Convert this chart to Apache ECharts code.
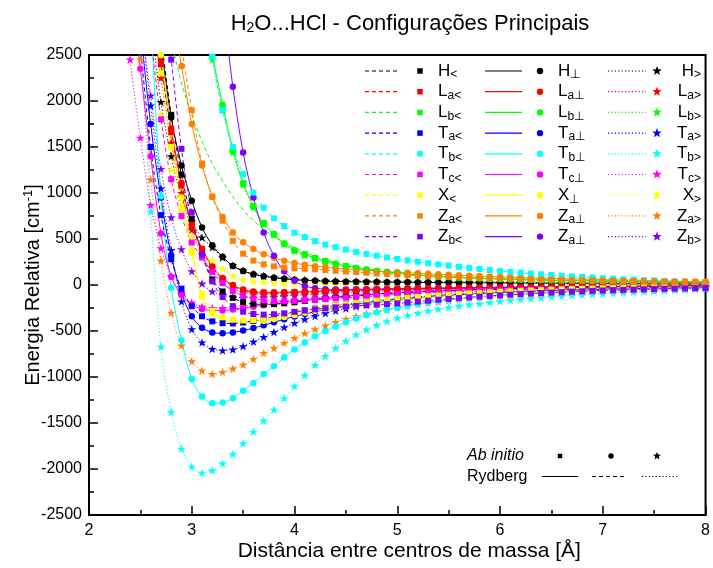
<!DOCTYPE html>
<html><head><meta charset="utf-8">
<script src="https://cdn.jsdelivr.net/npm/echarts@6/dist/echarts.min.js"></script>
<style>html,body{margin:0;padding:0;background:#fff}#chart{width:713px;height:568px}</style>
</head><body><div id="chart"></div>
<script>
const distances = [2.3,2.4,2.5,2.6,2.7,2.8,2.9,3.0,3.1,3.2,3.3,3.4,3.5,3.6,3.7,3.8,3.9,
 4.0,4.1,4.2,4.3,4.4,4.5,4.6,4.7,4.8,4.9,5.0,5.1,5.2,5.3,5.4,5.5,5.6,5.7,5.8,5.9,
 6.0,6.1,6.2,6.3,6.4,6.5,6.6,6.7,6.8,6.9,7.0,7.1,7.2,7.3,7.4,7.5,7.6,7.7,7.8,7.9,8.0];

const hLess = [null,null,null,null,2700,1850,1200,720,340,60,-70,-140,-185,-205,-211,-208,-200,
 -188,-174,-160,-148,-137,-126,-116,-107,-99,-92,
 -85,-79,-73,-68,-63,-59,-55,-51,-48,-45,
 -42,-39,-37,-34,-32,-30,-28,-26,-25,-23,
 -22,-20,-19,-18,-17,-16,-15,-14,-13,-12,-11];
const hPerp = [null,null,null,3300,2600,1820,1300,917,626,433,306,207,153,117,96,80,67,
 57,50,45,41,38,36,34,33,32,31,
 30,29,28,27,26,26,25,24,23,23,
 22,21,20,20,19,18,17,17,16,15,
 15,14,13,13,12,11,11,10,10,9,9];
const hGreater = [null,null,null,2900,1990,1400,960,690,516,410,300,212,158,120,98,82,70,
 60,54,49,46,43,41,39,38,37,36,
 35,34,33,32,31,31,30,29,29,28,
 27,27,26,25,25,24,23,23,22,21,
 21,20,19,19,18,17,17,16,15,15,14];
const laLess = [null,null,null,3200,2400,1660,1080,640,380,190,65,-11,-60,-80,-86,-86,-83,
 -79,-75,-71,-67,-63,-60,-57,-54,-51,-49,
 -47,-45,-43,-41,-39,-37,-35,-34,-32,-31,
 -29,-28,-27,-26,-25,-24,-23,-22,-21,-20,
 -19,-18,-17,-16,-15,-14,-13,-12,-11,-10,-9];
const laPerp = [null,null,null,3300,2450,1700,1110,660,395,200,75,0,-50,-72,-80,-80,-78,
 -75,-71,-67,-63,-60,-57,-54,-51,-49,-47,
 -45,-43,-41,-39,-37,-36,-34,-33,-31,-30,
 -29,-28,-26,-25,-24,-23,-22,-21,-20,-19,
 -18,-17,-16,-15,-14,-13,-12,-12,-11,-10,-9];
const laGreater = [null,null,null,3000,2250,1550,1000,600,330,150,30,-40,-78,-95,-100,-98,-94,
 -89,-84,-79,-74,-70,-66,-62,-59,-56,-53,
 -50,-48,-45,-43,-41,-39,-37,-35,-34,-32,
 -31,-29,-28,-27,-26,-24,-23,-22,-21,-20,
 -19,-18,-17,-16,-15,-14,-14,-13,-12,-11,-10];
const lbLess = [null,null,null,null,null,null,null,null,3250,2480,1940,1460,1100,860,675,550,448,
 376,330,291,258,229,205,184,166,150,137,
 126,116,107,99,92,86,81,76,72,68,
 64,61,58,55,53,51,49,47,45,43,
 41,39,37,35,34,32,30,29,27,26,24];
const lbLessFit = [null,null,null,null,3100,2650,2200,1850,1560,1320,1130,960,820,700,605,525,460,
 405,355,312,276,245,218,195,175,158,143,
 130,119,109,101,94,88,82,77,73,69,
 65,62,59,56,54,52,50,48,46,44,
 42,40,38,36,35,33,31,30,28,27,25];
const lbPerp = [null,null,null,null,null,null,null,null,3300,2520,1960,1474,1110,855,669,553,451,
 379,333,294,261,232,207,186,168,152,139,
 127,117,108,100,93,87,82,77,73,69,
 65,62,59,56,54,52,50,48,46,44,
 42,40,38,36,35,33,31,30,28,27,25];
const lbGreater = [null,null,null,null,null,null,null,null,3150,2450,1900,1440,1090,845,660,545,445,
 372,327,289,256,228,203,182,165,149,136,
 125,115,106,98,91,85,80,75,71,67,
 63,60,57,54,52,50,48,46,44,42,
 40,38,37,35,33,32,30,29,27,26,24];
const taLess = [null,null,2600,1500,760,280,-40,-230,-340,-395,-415,-418,-408,-390,-368,-342,-317,
 -295,-275,-256,-239,-223,-208,-194,-181,-169,-158,
 -148,-138,-129,-121,-114,-107,-101,-95,-89,-84,
 -79,-75,-71,-67,-63,-60,-57,-54,-51,-48,
 -46,-43,-41,-39,-37,-35,-33,-31,-29,-28,-26];
const taPerp = [null,null,2800,1750,950,320,-90,-340,-465,-515,-525,-515,-495,-468,-437,-405,-373,
 -343,-315,-290,-266,-245,-226,-208,-192,-178,-165,
 -153,-142,-132,-123,-115,-107,-100,-94,-88,-83,
 -78,-73,-69,-65,-61,-58,-55,-52,-49,-46,
 -44,-42,-40,-38,-36,-34,-32,-30,-28,-27,-25];
const taGreater = [null,null,2950,1950,1050,380,-180,-480,-625,-695,-712,-700,-665,-617,-565,-512,-460,
 -413,-372,-337,-306,-279,-255,-234,-215,-198,-183,
 -170,-158,-147,-137,-128,-120,-112,-105,-99,-93,
 -87,-82,-77,-73,-69,-65,-61,-58,-55,-52,
 -49,-46,-44,-42,-40,-38,-36,-34,-32,-30,-28];
const tbLess = [null,null,null,null,null,null,null,null,3300,2480,1900,1500,1205,1004,841,724,641,
 568,521,477,440,410,385,360,338,318,300,
 283,267,252,237,223,210,197,185,174,163,
 153,143,134,125,117,109,101,94,87,81,
 75,69,63,58,53,48,43,38,34,29,25];
const tbPerp = [null,null,null,3000,964,-29,-600,-1023,-1212,-1285,-1277,-1230,-1150,-1066,-968,-884,-786,
 -700,-625,-557,-500,-450,-405,-365,-330,-300,-272,
 -248,-226,-207,-190,-175,-161,-149,-138,-128,-119,
 -111,-104,-97,-91,-85,-80,-75,-70,-66,-62,
 -58,-55,-51,-48,-45,-42,-39,-37,-34,-32,-30];
const tbGreater = [null,null,2700,800,-670,-1380,-1780,-1976,-2040,-2015,-1940,-1837,-1721,-1594,-1474,-1357,-1230,
 -1100,-980,-870,-772,-685,-608,-542,-485,-436,-395,
 -360,-330,-304,-281,-261,-243,-227,-213,-200,-188,
 -177,-166,-156,-146,-137,-129,-121,-114,-107,-100,
 -94,-88,-82,-77,-72,-67,-62,-57,-52,-47,-42];
const tcLess = [null,null,null,2700,1800,1150,750,462,298,142,20,-65,-115,-148,-166,-175,-176,
 -173,-168,-161,-154,-146,-139,-131,-124,-117,-110,
 -104,-98,-92,-87,-82,-77,-73,-69,-65,-61,
 -58,-55,-52,-49,-46,-44,-41,-39,-37,-35,
 -33,-31,-30,-28,-27,-25,-24,-22,-21,-20,-19];
const tcPerp = [null,3300,2350,1400,560,90,-110,-215,-262,-276,-276,-266,-252,-236,-220,-204,-189,
 -175,-162,-150,-139,-129,-120,-112,-105,-98,-92,
 -86,-81,-76,-71,-67,-63,-59,-56,-53,-50,
 -47,-44,-42,-40,-38,-36,-34,-32,-30,-29,
 -27,-26,-24,-23,-22,-21,-20,-19,-18,-17,-16];
const tcGreater = [3500,2450,1600,870,400,95,-95,-190,-235,-250,-250,-243,-232,-219,-205,-191,-178,
 -165,-153,-142,-132,-123,-115,-107,-100,-94,-88,
 -82,-77,-72,-68,-64,-60,-56,-53,-50,-47,
 -44,-42,-40,-38,-36,-34,-32,-30,-29,-27,
 -26,-25,-23,-22,-21,-20,-19,-18,-17,-16,-15];
const xLess = [null,null,null,3100,2300,1500,850,350,-100,-280,-350,-378,-385,-380,-368,-350,-330,
 -305,-280,-258,-240,-225,-210,-196,-183,-171,-160,
 -150,-140,-131,-122,-114,-106,-99,-92,-86,-80,
 -74,-69,-64,-60,-56,-52,-48,-45,-42,-39,
 -36,-34,-31,-29,-27,-25,-23,-21,-20,-18,-17];
const xPerp = [null,null,null,3300,2500,1650,950,380,-130,-315,-378,-400,-405,-400,-388,-370,-348,
 -325,-302,-281,-262,-245,-230,-216,-203,-191,-180,
 -170,-160,-150,-141,-132,-124,-116,-109,-102,-96,
 -90,-84,-79,-74,-69,-65,-61,-57,-53,-50,
 -47,-44,-41,-38,-36,-34,-32,-30,-28,-26,-24];
const xGreater = [null,null,null,2700,1850,1250,800,520,360,265,180,100,55,40,32,27,23,
 20,18,17,16,15,15,14,14,13,13,
 12,12,11,11,11,10,10,10,9,9,
 9,8,8,8,7,7,7,6,6,6,
 6,5,5,5,5,4,4,4,4,3,3];
const zaLess = [null,null,null,null,null,3300,2600,1900,1320,960,700,480,340,265,225,203,190,
 182,176,170,163,155,147,140,133,126,120,
 114,108,103,98,94,90,86,82,78,75,
 72,69,66,63,60,58,56,53,51,49,
 47,45,43,41,39,37,35,33,32,30,28];
const zaPerp = [null,null,null,null,null,3000,2380,1750,1300,960,740,571,465,390,335,295,263,
 238,220,205,193,183,175,167,159,152,145,
 139,133,127,121,116,111,106,101,97,93,
 89,85,81,78,75,72,69,66,63,60,
 58,55,53,50,48,46,44,42,40,38,36];
const zaGreater = [null,3400,2456,1150,265,-302,-658,-830,-931,-968,-946,-909,-866,-804,-739,-684,-630,
 -575,-525,-480,-440,-403,-370,-340,-313,-288,-265,
 -245,-227,-210,-195,-181,-168,-156,-145,-135,-126,
 -118,-111,-104,-98,-92,-86,-81,-76,-71,-67,
 -63,-59,-55,-51,-48,-45,-42,-39,-36,-33,-30];
const zbLess = [null,null,null,null,3400,2450,1480,790,330,40,-130,-230,-290,-315,-322,-318,-308,
 -292,-278,-265,-253,-243,-235,-228,-221,-214,-207,
 -200,-190,-180,-170,-160,-151,-142,-134,-126,-119,
 -112,-105,-99,-93,-87,-82,-77,-72,-68,-64,
 -60,-56,-53,-50,-47,-44,-41,-39,-36,-34,-32];
const zbPerp = [null,null,null,null,null,null,null,null,null,null,3100,2155,1440,950,570,317,150,
 45,-10,-35,-45,-48,-48,-47,-45,-43,-41,
 -39,-37,-35,-34,-32,-31,-29,-28,-27,-26,
 -24,-23,-22,-21,-20,-19,-18,-17,-16,-16,
 -15,-14,-13,-13,-12,-11,-11,-10,-10,-9,-9];
const zbGreater = [null,null,2900,2060,1260,735,389,150,15,-70,-110,-130,-138,-138,-134,-128,-121,
 -114,-107,-100,-94,-88,-82,-77,-72,-68,-64,
 -60,-56,-53,-50,-47,-44,-42,-39,-37,-35,
 -33,-31,-29,-28,-26,-25,-24,-22,-21,-20,
 -19,-18,-17,-16,-15,-14,-14,-13,-12,-12,-11];

const configColors = ['#000000','#ff0000','#00ff00','#0000ff','#00ffff','#ff00ff','#ffff00','#ff8000','#8000ff'];
const legendMain = ['H','L','L','T','T','T','X','Z','Z'];
const subsLess = ['<','a<','b<','a<','b<','c<','<','a<','b<'];
const subsPerp = ['\u22a5','a\u22a5','b\u22a5','a\u22a5','b\u22a5','c\u22a5','\u22a5','a\u22a5','a\u22a5'];
const subsGreater = ['>','a>','b>','a>','b>','c>','>','a>','b>'];
const xTicks = [2,3,4,5,6,7,8];

const lessData = [hLess, laLess, lbLess, taLess, tbLess, tcLess, xLess, zaLess, zbLess];
const perpData = [hPerp, laPerp, lbPerp, taPerp, tbPerp, tcPerp, xPerp, zaPerp, zbPerp];
const greaterData = [hGreater, laGreater, lbGreater, taGreater, tbGreater, tcGreater, xGreater, zaGreater, zbGreater];

[lessData, perpData, greaterData, [lbLessFit]].forEach(g => g.forEach((a, i) => {
  if (a.length !== distances.length) throw new Error('length mismatch ' + i + ' ' + a.length);
}));

const FONT = "'Liberation Sans', Arial, sans-serif";
const STAR = 'path://M50,0L61.2,34.5L97.6,34.5L68.2,55.9L79.4,90.5L50,69.1L20.6,90.5L31.8,55.9L2.4,34.5L38.8,34.5Z';
const kinds = [
  {data: greaterData, subs: subsGreater, symbol: STAR, size: 9, dash: [1.2, 2.2], mk: 'star'},
  {data: perpData, subs: subsPerp, symbol: 'circle', size: 6.5, dash: 'solid', mk: 'circle'},
  {data: lessData, subs: subsLess, symbol: 'rect', size: 6, dash: [4, 3], mk: 'rect'}
];
const pairs = arr => arr.map((v, i) => [distances[i], v]);

const series = [];
kinds.forEach(k => {
  k.data.forEach((arr, ci) => {
    const color = configColors[ci];
    const fit = (k.mk === 'rect' && ci === 2) ? lbLessFit : null;
    series.push({
      type: 'line', name: legendMain[ci] + k.subs[ci], data: pairs(arr),
      smooth: 0.35, symbol: k.symbol, symbolSize: k.size, symbolKeepAspect: true,
      showSymbol: true, showAllSymbol: true, connectNulls: false, clip: true,
      itemStyle: {color: color},
      lineStyle: fit ? {width: 0, opacity: 0} : {color: color, width: 1, type: k.dash},
      emphasis: {disabled: true}, silent: true
    });
    if (fit) {
      series.push({
        type: 'line', name: legendMain[ci] + k.subs[ci] + ' fit', data: pairs(fit),
        smooth: 0.35, symbol: 'none', connectNulls: false, clip: true,
        lineStyle: {color: color, width: 1, type: k.dash}, emphasis: {disabled: true}, silent: true
      });
    }
  });
});

function starPoints(cx, cy, R, r) {
  const pts = [];
  for (let i = 0; i < 10; i++) {
    const a = -Math.PI / 2 + i * Math.PI / 5;
    const rr = i % 2 ? r : R;
    pts.push([cx + rr * Math.cos(a), cy + rr * Math.sin(a)]);
  }
  return pts;
}
function marker(kind, x, y, color, s) {
  if (kind === 'rect') return {type: 'rect', shape: {x: x - 2.75 * s, y: y - 2.75 * s, width: 5.5 * s, height: 5.5 * s}, style: {fill: color}, z: 100};
  if (kind === 'circle') return {type: 'circle', shape: {cx: x, cy: y, r: 3.2 * s}, style: {fill: color}, z: 100};
  return {type: 'polygon', shape: {points: starPoints(x, y, 5 * s, 2.1 * s)}, style: {fill: color}, z: 100};
}

const graphics = [];
const rowY0 = 71, rowStep = 20.7;
const legendCols = [
  {kind: kinds[2], line: [365, 400], mark: 420, text: 438, align: 'left'},
  {kind: kinds[1], line: [485, 522], mark: 540, text: 558, align: 'left'},
  {kind: kinds[0], line: [608, 646], mark: 657, text: 701, align: 'right'}
];
legendCols.forEach(col => {
  configColors.forEach((color, r) => {
    const y = rowY0 + r * rowStep;
    graphics.push({type: 'line', shape: {x1: col.line[0], y1: y, x2: col.line[1], y2: y},
      style: {stroke: color, lineWidth: 1.2, lineDash: col.kind.dash === 'solid' ? null : col.kind.dash}, z: 100});
    graphics.push(marker(col.kind.mk, col.mark, y, color, 1));
    graphics.push({type: 'text', z: 100, style: {
      text: '{m|' + legendMain[r] + '}{s|' + col.kind.subs[r] + '}', x: col.text, y: y,
      align: col.align, verticalAlign: 'middle',
      rich: {
        m: {fontSize: 17, fontFamily: FONT, fill: '#000', lineHeight: 20},
        s: {fontSize: 12, fontFamily: FONT, fill: '#000', lineHeight: 12, verticalAlign: 'bottom'}
      }
    }});
  });
});
// bottom legend
graphics.push({type: 'text', z: 100, style: {text: 'Ab initio', x: 467, y: 456, verticalAlign: 'middle', font: 'italic 16px ' + FONT, fill: '#000'}});
graphics.push({type: 'text', z: 100, style: {text: 'Rydberg', x: 467, y: 477, verticalAlign: 'middle', font: '16px ' + FONT, fill: '#000'}});
graphics.push(marker('rect', 560, 456, '#000', 0.8));
graphics.push(marker('circle', 611, 456, '#000', 0.85));
graphics.push(marker('star', 657, 456, '#000', 0.85));
[[542, 578, null], [592, 627, [4, 3]], [642, 679, [1.2, 2.2]]].forEach(d => {
  graphics.push({type: 'line', z: 100, shape: {x1: d[0], y1: 476.5, x2: d[1], y2: 476.5}, style: {stroke: '#000', lineWidth: 1, lineDash: d[2]}});
});

const chart = echarts.init(document.getElementById('chart'), null, {renderer: 'canvas'});
chart.setOption({
  animation: false,
  backgroundColor: '#fff',
  title: {
    text: 'H{s|2}O...HCl - Configurações Principais',
    left: 405, top: 8, textAlign: 'center',
    textStyle: {fontSize: 22, fontWeight: 'normal', fontFamily: FONT, color: '#000',
      rich: {s: {fontSize: 14, fontFamily: FONT, color: '#000', verticalAlign: 'bottom', lineHeight: 16}}}
  },
  grid: {left: 89, right: 4, top: 55, bottom: 53, show: true, borderColor: '#000', borderWidth: 2, backgroundColor: 'transparent'},
  xAxis: {
    type: 'value', min: xTicks[0], max: xTicks[xTicks.length - 1], interval: 1,
    name: 'Distância entre centros de massa [Å]', nameLocation: 'middle', nameGap: 26, nameMoveOverlap: false,
    nameTextStyle: {fontSize: 21, fontFamily: FONT, color: '#000', padding: [0, 0, 0, 24]},
    axisLine: {onZero: false, lineStyle: {color: '#000', width: 2}},
    axisTick: {inside: true, length: 9, lineStyle: {color: '#000', width: 1.5}},
    minorTick: {show: true, splitNumber: 2, length: 5, lineStyle: {color: '#000', width: 1.5}},
    axisLabel: {fontSize: 16, fontFamily: FONT, color: '#000', margin: 8, formatter: v => String(v)},
    splitLine: {show: false}
  },
  yAxis: {
    type: 'value', min: -2500, max: 2500, interval: 500,
    name: 'Energia Relativa [cm{sup|-1}]', nameLocation: 'middle', nameGap: 45, nameRotate: 90, nameMoveOverlap: false,
    nameTextStyle: {fontSize: 20, fontFamily: FONT, color: '#000', lineHeight: 22,
      rich: {sup: {fontSize: 13, fontFamily: FONT, color: '#000', verticalAlign: 'top', lineHeight: 12}}},
    axisLine: {onZero: false, lineStyle: {color: '#000', width: 2}},
    axisTick: {inside: true, length: 9, lineStyle: {color: '#000', width: 1.5}},
    minorTick: {show: true, splitNumber: 2, length: 5, lineStyle: {color: '#000', width: 1.5}},
    axisLabel: {fontSize: 16, fontFamily: FONT, color: '#000', margin: 7, formatter: v => String(v)},
    splitLine: {show: false}
  },
  graphic: graphics,
  series: series
});
</script>
</body></html>
